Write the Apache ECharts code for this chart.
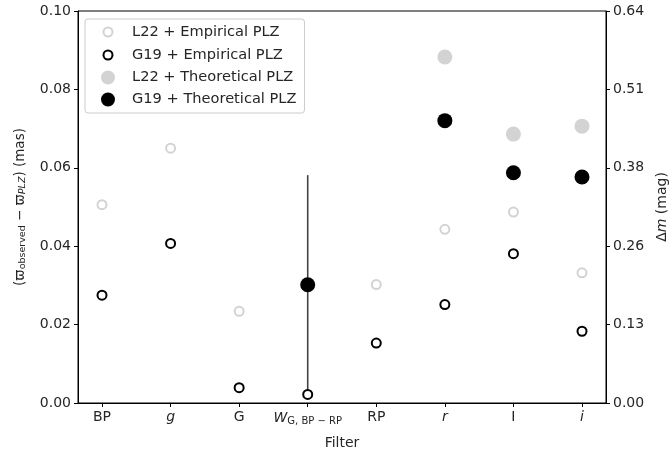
<!DOCTYPE html>
<html>
<head>
<meta charset="utf-8">
<script src="https://cdn.jsdelivr.net/npm/echarts@6/dist/echarts.min.js"></script>
<style>
  html, body { margin: 0; padding: 0; background: #fff; }
  #chart { width: 671px; height: 454px; }
</style>
</head>
<body>
<div id="chart"></div>
<script>
// Filters along the x axis
const filters = ['BP', 'g', 'G', 'W', 'RP', 'r', 'I', 'i'];

// Parallax offsets (mas), left axis
const l22Empirical = [0.0506, 0.0650, 0.0234, null, 0.0302, 0.0443, 0.0487, 0.0332];
const g19Empirical = [0.0275, 0.0407, 0.0039, 0.0022, 0.0153, 0.0251, 0.0381, 0.0183];

// Magnitude offsets (mag), right axis
const l22Theoretical = [null, null, null, null, null, 0.565, 0.439, 0.452];
const g19Theoretical = [null, null, null, 0.193, null, 0.461, 0.376, 0.369];
// Uncertainty on the G19 theoretical Wesenheit point (mag)
const g19TheoreticalErr = [null, null, null, 0.179, null, null, null, null];

// Axis tick values
const leftTicks = [0, 0.02, 0.04, 0.06, 0.08, 0.10];
const rightTicks = [0, 0.128, 0.256, 0.384, 0.512, 0.64];

const FONT = 'DejaVu Sans';
const TXT = '#262626';
const FS = 14;

const chart = echarts.init(document.getElementById('chart'), null, { renderer: 'canvas' });

// pair each value with its filter index, dropping missing ones
const pairs = arr => arr.map((v, i) => [i, v]).filter(d => d[1] != null);
const filterIdx = filters.map((f, i) => i);

// Legend icons: circles sized inside a fixed 14x14 box
const smallRing = 'path://M0,0 M14,14 M7,2.5 A4.5,4.5 0 1,1 6.99,2.5 Z';
const bigDot = 'path://M0,0 M14,14 M7,0 A7,7 0 1,1 6.99,0 Z';

const errData = filterIdx
  .filter(i => g19TheoreticalErr[i] != null)
  .map(i => [i, g19Theoretical[i] - g19TheoreticalErr[i], g19Theoretical[i] + g19TheoreticalErr[i]]);

const axisTitle = { fontFamily: FONT, fontSize: FS, color: TXT };

const option = {
  backgroundColor: '#fff',
  animation: false,
  grid: {
    left: 78, right: 65, top: 11, bottom: 51,
    outerBoundsMode: 'none',
    show: true, borderColor: '#000', borderWidth: 1, backgroundColor: 'transparent'
  },
  legend: {
    orient: 'vertical',
    left: 85, top: 19,
    padding: [5, 8, 6, 15],
    itemGap: 7,
    itemWidth: 14, itemHeight: 14,
    backgroundColor: '#fff',
    borderColor: '#cccccc', borderWidth: 1, borderRadius: 3,
    textStyle: { fontFamily: FONT, fontSize: 14.6, color: TXT, padding: [0, 0, 0, 12] },
    data: [
      { name: 'L22 + Empirical PLZ', icon: smallRing, itemStyle: { color: '#fff', borderColor: '#d3d3d3', borderWidth: 2 } },
      { name: 'G19 + Empirical PLZ', icon: smallRing, itemStyle: { color: '#fff', borderColor: '#000', borderWidth: 2 } },
      { name: 'L22 + Theoretical PLZ', icon: bigDot, itemStyle: { color: '#d3d3d3', borderWidth: 0 } },
      { name: 'G19 + Theoretical PLZ', icon: bigDot, itemStyle: { color: '#000', borderWidth: 0 } }
    ]
  },
  xAxis: {
    type: 'value',
    min: -0.35, max: 7.35,
    name: 'Filter',
    nameLocation: 'middle',
    nameGap: 33,
    nameTextStyle: axisTitle,
    axisLine: { show: true, onZero: false, lineStyle: { color: '#000', width: 1 } },
    axisTick: { show: true, customValues: filterIdx, length: 4, lineStyle: { color: '#000' } },
    axisLabel: {
      show: true,
      customValues: filterIdx,
      margin: 7,
      fontFamily: FONT, fontSize: FS, color: TXT,
      formatter: v => {
        const f = filters[Math.round(v)];
        if (f === 'W') return '{it|W}{sub|G, BP − RP}';
        if (f === 'g' || f === 'r' || f === 'i') return '{it|' + f + '}';
        return f;
      },
      rich: {
        it: { fontFamily: FONT, fontSize: FS, fontStyle: 'italic', color: TXT },
        sub: { fontFamily: FONT, fontSize: 10, color: TXT, padding: [6, 0, 0, 0] }
      }
    },
    splitLine: { show: false }
  },
  yAxis: [
    {
      type: 'value',
      min: 0, max: 0.10, interval: 0.02,
      position: 'left',
      name: '(ϖ{sub|observed} − ϖ{subi|PLZ}) (mas)',
      nameLocation: 'middle',
      nameGap: 50,
      nameRotate: 90,
      nameTextStyle: {
        fontFamily: FONT, fontSize: 13.5, color: TXT,
        rich: {
          sub: { fontFamily: FONT, fontSize: 9.5, color: TXT, padding: [5, 0, 0, 0] },
          subi: { fontFamily: FONT, fontSize: 9.5, fontStyle: 'italic', color: TXT, padding: [5, 0, 0, 0] }
        }
      },
      axisLine: { show: true, onZero: false, lineStyle: { color: '#000' } },
      axisTick: { show: true, length: 4, lineStyle: { color: '#000' } },
      axisLabel: { margin: 7, fontFamily: FONT, fontSize: FS, color: TXT, formatter: v => v.toFixed(2) },
      splitLine: { show: false }
    },
    {
      type: 'value',
      min: 0, max: 0.64, interval: 0.128,
      position: 'right',
      name: 'Δ{it|m} (mag)',
      nameLocation: 'middle',
      nameGap: 49,
      nameRotate: 90,
      nameTextStyle: {
        fontFamily: FONT, fontSize: FS, color: TXT,
        rich: { it: { fontFamily: FONT, fontSize: FS, fontStyle: 'italic', color: TXT } }
      },
      axisLine: { show: true, onZero: false, lineStyle: { color: '#000' } },
      axisTick: { show: true, length: 4, lineStyle: { color: '#000' } },
      axisLabel: { margin: 7, fontFamily: FONT, fontSize: FS, color: TXT, formatter: v => v.toFixed(2) },
      splitLine: { show: false }
    }
  ],
  series: [
    {
      name: 'L22 + Empirical PLZ', type: 'scatter', yAxisIndex: 0,
      data: pairs(l22Empirical), symbol: 'circle', symbolSize: 9, z: 3,
      itemStyle: { color: '#fff', borderColor: '#d3d3d3', borderWidth: 2, opacity: 1 }
    },
    {
      name: 'G19 + Empirical PLZ', type: 'scatter', yAxisIndex: 0,
      data: pairs(g19Empirical), symbol: 'circle', symbolSize: 9, z: 3,
      itemStyle: { color: '#fff', borderColor: '#000', borderWidth: 2, opacity: 1 }
    },
    {
      name: 'L22 + Theoretical PLZ', type: 'scatter', yAxisIndex: 1,
      data: pairs(l22Theoretical), symbol: 'circle', symbolSize: 15, z: 3,
      itemStyle: { color: '#d3d3d3', opacity: 1 }
    },
    {
      name: 'G19 + Theoretical PLZ', type: 'scatter', yAxisIndex: 1,
      data: pairs(g19Theoretical), symbol: 'circle', symbolSize: 15, z: 4,
      itemStyle: { color: '#000', opacity: 1 }
    },
    {
      name: 'err', type: 'custom', yAxisIndex: 1, z: 2,
      data: errData,
      encode: { x: 0, y: [1, 2] },
      renderItem: (params, api) => {
        const lo = api.coord([api.value(0), api.value(1)]);
        const hi = api.coord([api.value(0), api.value(2)]);
        return {
          type: 'line',
          shape: { x1: lo[0], y1: lo[1], x2: hi[0], y2: hi[1] },
          style: { stroke: '#444', lineWidth: 1.6 }
        };
      },
      tooltip: { show: false }
    }
  ]
};

chart.setOption(option);
</script>
</body>
</html>
